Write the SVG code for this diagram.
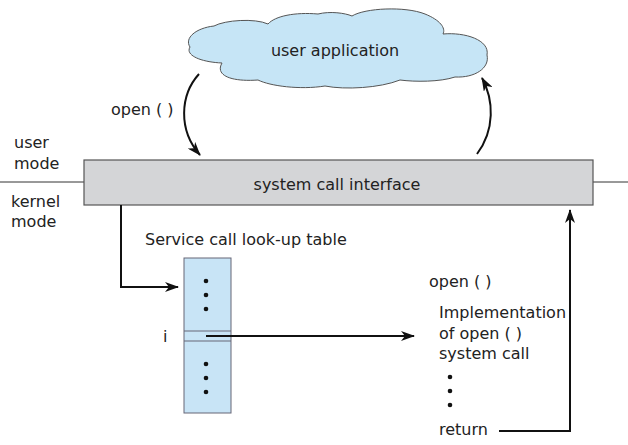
<svg xmlns="http://www.w3.org/2000/svg" width="628" height="445" viewBox="0 0 628 445">
<defs>
<style>
text{font-family:"DejaVu Sans","Liberation Sans",sans-serif;font-size:16px;fill:#222}
.conn{fill:none;stroke:#111;stroke-width:2}
.thin{fill:none;stroke:#333;stroke-width:1}
.dot{fill:#111}
</style>
<marker id="ah" markerWidth="14" markerHeight="10" refX="13" refY="5" orient="auto" markerUnits="userSpaceOnUse">
<path d="M0,0 L14,5 L0,10 L4,5 Z" fill="#111"/>
</marker>
</defs>
<rect width="628" height="445" fill="#fff"/>
<g id="cloud">
<path d="M190,47 C184,38 196,28 214,26 C225,20 255,18 268,24 C275,16 295,12 318,14 C330,11 345,13 352,16 C365,8 405,6 425,14 C440,20 446,28 443,34 C465,32 490,40 487,55 C490,68 475,78 455,77 C440,82 415,82 400,80 C380,88 345,90 325,86 C300,90 270,86 258,80 C230,82 215,75 222,63 C200,62 185,55 190,47 Z" fill="#c6e5f6" stroke="#555" stroke-width="1"/>
<text x="335" y="56" text-anchor="middle">user application</text>
</g>
<g id="mode-labels">
<line class="thin" x1="0" y1="182" x2="84" y2="182"/>
<line class="thin" x1="593" y1="182" x2="628" y2="182"/>
<text x="14" y="148">user</text>
<text x="14" y="169">mode</text>
<text x="11" y="207">kernel</text>
<text x="11" y="227">mode</text>
</g>
<g id="sci">
<rect x="84" y="160" width="509" height="45" fill="#d4d5d7" stroke="#555" stroke-width="1.2"/>
<text x="337" y="190" text-anchor="middle">system call interface</text>
</g>
<g id="table">
<text x="145" y="245" font-size="16.6">Service call look-up table</text>
<rect x="184" y="258" width="47" height="155" fill="#c8e4f6" stroke="#667" stroke-width="1"/>
<line x1="184" y1="331" x2="231" y2="331" stroke="#667" stroke-width="1"/>
<line x1="184" y1="341" x2="231" y2="341" stroke="#667" stroke-width="1"/>
<circle class="dot" cx="206" cy="281" r="2.3"/>
<circle class="dot" cx="206" cy="295" r="2.3"/>
<circle class="dot" cx="206" cy="309" r="2.3"/>
<circle class="dot" cx="206" cy="364" r="2.3"/>
<circle class="dot" cx="206" cy="378" r="2.3"/>
<circle class="dot" cx="206" cy="392" r="2.3"/>
<text x="163" y="342">i</text>
</g>
<g id="impl">
<text x="429" y="287">open ( )</text>
<text x="439" y="318">Implementation</text>
<text x="439" y="339">of open ( )</text>
<text x="439" y="359">system call</text>
<circle class="dot" cx="450" cy="377" r="2.3"/>
<circle class="dot" cx="450" cy="391" r="2.3"/>
<circle class="dot" cx="450" cy="405" r="2.3"/>
<text x="439" y="435">return</text>
</g>
<g id="connectors">
<text x="111" y="115">open ( )</text>
<path class="conn" d="M199,74 C180,95 178,130 200,155" marker-end="url(#ah)"/>
<path class="conn" d="M477,154 C495,130 494,100 482,78" marker-end="url(#ah)"/>
<path class="conn" d="M121,205 V287 H178" marker-end="url(#ah)"/>
<path class="conn" d="M206,336 H414" marker-end="url(#ah)"/>
<path class="conn" d="M499,431 H570 V210" marker-end="url(#ah)"/>
</g>
</svg>
